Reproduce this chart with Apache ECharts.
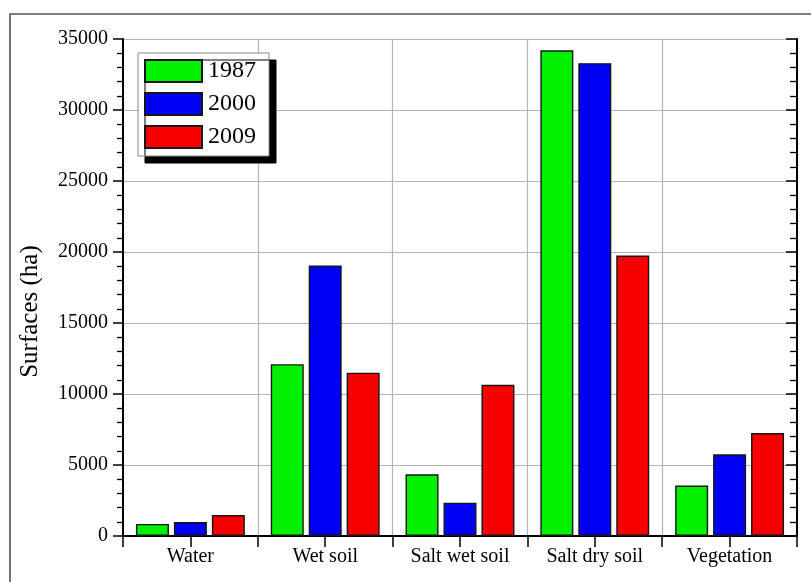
<!DOCTYPE html>
<html>
<head>
<meta charset="utf-8">
<script src="https://cdn.jsdelivr.net/npm/echarts@6/dist/echarts.min.js"></script>
<style>
  html, body { margin: 0; padding: 0; background: #fff; }
  #chart { width: 811px; height: 582px; }
</style>
</head>
<body>
<div id="chart"></div>
<script>
// Land-cover surfaces per class, three survey years
const categories = ['Water', 'Wet soil', 'Salt wet soil', 'Salt dry soil', 'Vegetation'];
const years = ['1987', '2000', '2009'];
const surfaces1987 = [850, 12100, 4350, 34200, 3550];
const surfaces2000 = [980, 19050, 2350, 33300, 5750];
const surfaces2009 = [1480, 11500, 10650, 19750, 7250];
const yMin = 0;
const yMax = 35000;
const yStep = 5000;

const colors = ['#00f000', '#0000f5', '#f80000'];
const seriesValues = [surfaces1987, surfaces2000, surfaces2009];
const serif = 'Liberation Serif';

const chart = echarts.init(document.getElementById('chart'), null, { renderer: 'canvas' });

const series = years.map((y, i) => ({
  name: y,
  type: 'bar',
  xAxisIndex: 0,
  yAxisIndex: 0,
  data: seriesValues[i],
  barWidth: 33,
  barGap: '15%',
  itemStyle: { color: colors[i], borderColor: '#161616', borderWidth: 1.4 },
  emphasis: { disabled: true }
}));

chart.setOption({
  animation: false,
  backgroundColor: '#fff',
  textStyle: { fontFamily: serif },
  graphic: [{
    type: 'rect',
    shape: { x: 10, y: 14, width: 1000, height: 1000 },
    style: { fill: 'none', stroke: '#555', lineWidth: 1.6 },
    z: -10
  }],
  grid: { left: 123, right: 14, top: 39, bottom: 46, containLabel: false },
  legend: {
    orient: 'vertical',
    left: 138,
    top: 53,
    padding: [6, 13, 7, 6],
    itemWidth: 57,
    itemHeight: 22,
    itemGap: 9,
    icon: 'rect',
    backgroundColor: '#fff',
    borderColor: '#888',
    borderWidth: 1,
    shadowColor: '#000',
    shadowBlur: 0,
    shadowOffsetX: 7,
    shadowOffsetY: 7,
    textStyle: { fontFamily: serif, fontSize: 24, color: '#000', padding: [2, 0, 0, 1] },
    data: years
  },
  xAxis: [{
    type: 'category',
    data: categories,
    position: 'bottom',
    boundaryGap: true,
    axisLine: { lineStyle: { color: '#000', width: 2 } },
    axisTick: { show: true, inside: false, length: 7, interval: 0, lineStyle: { color: '#000', width: 1.5 } },
    axisLabel: { fontFamily: serif, fontSize: 20, color: '#000', margin: 11, interval: 0 },
    splitLine: { show: true, interval: 0, lineStyle: { color: '#b4b4b4', width: 1.2 } }
  }, {
    type: 'value',
    position: 'top',
    min: 0,
    max: categories.length,
    interval: 0.5,
    axisLine: { lineStyle: { color: '#000', width: 2 } },
    axisTick: { show: true, inside: true, length: 11, lineStyle: { color: '#000', width: 1.5 } },
    axisLabel: { show: false },
    splitLine: { show: false }
  }],
  yAxis: [{
    type: 'value',
    position: 'left',
    min: yMin,
    max: yMax,
    interval: yStep,
    name: 'Surfaces (ha)',
    nameLocation: 'middle',
    nameGap: 80,
    nameRotate: 90,
    nameTextStyle: { fontFamily: serif, fontSize: 25, color: '#000', padding: [0, 48, 0, 0] },
    axisLine: { show: true, lineStyle: { color: '#000', width: 2 } },
    axisTick: { show: true, inside: false, length: 10, lineStyle: { color: '#000', width: 1.5 } },
    minorTick: { show: true, splitNumber: 5, length: 6, lineStyle: { color: '#000', width: 1.3 } },
    axisLabel: { fontFamily: serif, fontSize: 20, color: '#000', margin: 15, formatter: v => String(v) },
    splitLine: { show: true, lineStyle: { color: '#b4b4b4', width: 1.2 } }
  }, {
    type: 'value',
    position: 'right',
    min: yMin,
    max: yMax,
    interval: yStep,
    axisLine: { show: true, lineStyle: { color: '#000', width: 2 } },
    axisTick: { show: true, inside: true, length: 11, lineStyle: { color: '#000', width: 1.5 } },
    minorTick: { show: true, splitNumber: 5, length: 7, lineStyle: { color: '#000', width: 1.3 } },
    axisLabel: { show: false },
    splitLine: { show: false }
  }],
  series: series
});
</script>
</body>
</html>
